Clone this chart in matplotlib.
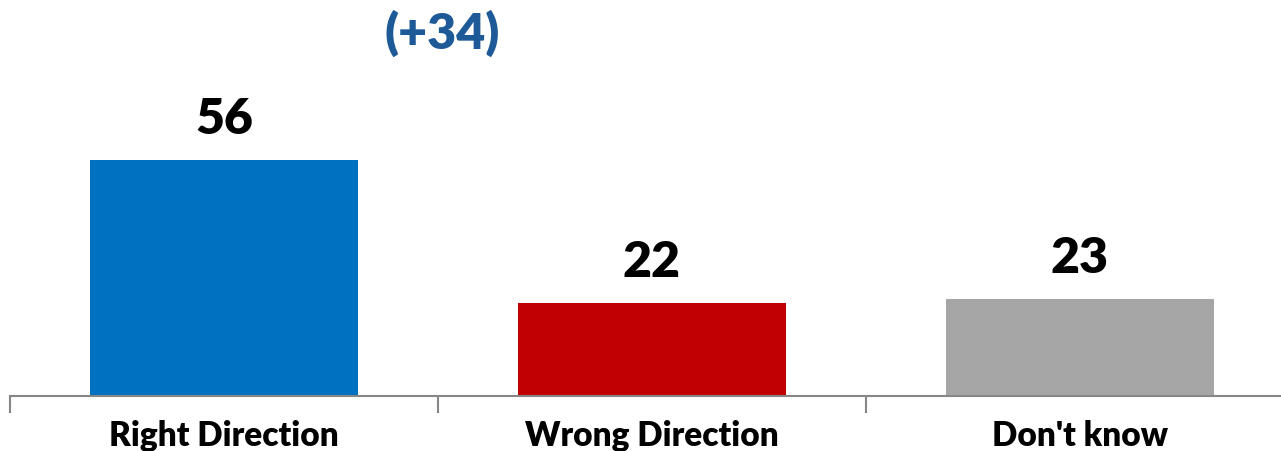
import matplotlib.pyplot as plt

categories = ['Right Direction', 'Wrong Direction', "Don't know"]
values = [56, 22, 23]
colors = ['#0070C0', '#C00000', '#A6A6A6']
net_label = '(+34)'

plt.rcParams['font.family'] = ['Lato', 'DejaVu Sans']

fig = plt.figure(figsize=(12.81, 4.51), dpi=100)
# axes placed in pixels: baseline at y=396, categories 428 px apart
ax = fig.add_axes([10 / 1281, (451 - 396) / 451, 1284 / 1281, 396 / 451])

x = range(len(categories))
ax.bar(x, values, width=0.624, color=colors)

for i, v in enumerate(values):
    ax.text(i, v + 4.3, str(v), ha='center', va='bottom',
            fontsize=36, fontweight='heavy', color='black')

ax.text(0.51, 86.0, net_label, ha='center', va='center',
        fontsize=36, fontweight='heavy', color='#1D5A97')

ax.set_xlim(-0.5, 2.5)
ax.set_ylim(0, 94)
ax.set_xticks([-0.5, 0.5, 1.5, 2.5])
ax.set_xticklabels([])
ax.set_xticks(list(x), minor=True)
ax.set_xticklabels(categories, minor=True, fontsize=24, fontweight='heavy')
ax.tick_params(axis='x', which='major', length=12, width=1.5, color='#868686')
ax.tick_params(axis='x', which='minor', length=0, pad=17)
ax.set_yticks([])
for s in ['top', 'right', 'left']:
    ax.spines[s].set_visible(False)
ax.spines['bottom'].set_color('#868686')
ax.spines['bottom'].set_linewidth(1.5)

fig.savefig('out.png', dpi=100)
